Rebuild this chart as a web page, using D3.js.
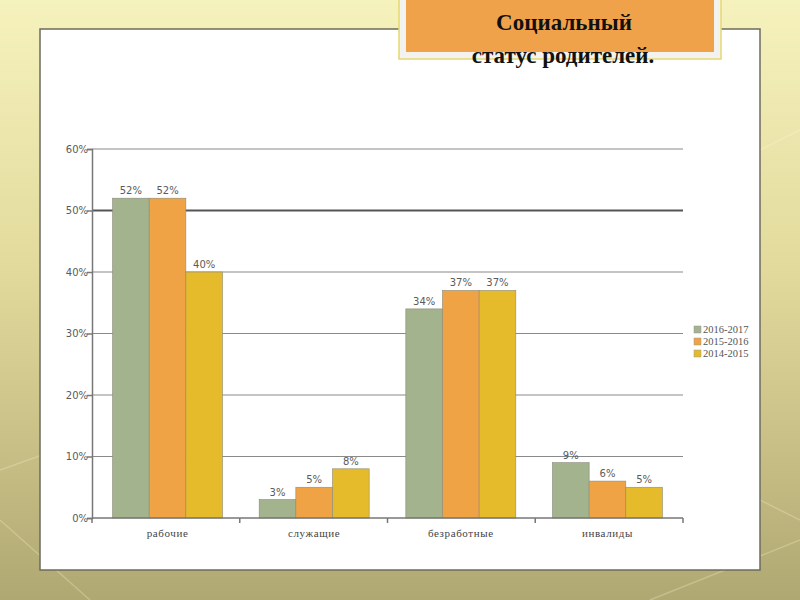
<!DOCTYPE html>
<html>
<head>
<meta charset="utf-8">
<script src="https://cdn.jsdelivr.net/npm/d3@7"></script>
<style>
  body { margin: 0; padding: 0; }
  #container { width: 800px; height: 600px; }
</style>
</head>
<body>
<div id="container"></div>
<script>
let w = 800;
let h = 600;

let categories = ["рабочие", "служащие", "безработные", "инвалиды"];
let seriesNames = ["2016-2017", "2015-2016", "2014-2015"];
let values2016 = [52, 3, 34, 9];
let values2015 = [52, 5, 37, 6];
let values2014 = [40, 8, 37, 5];
let yTicks = [0, 10, 20, 30, 40, 50, 60];
let colors = ["#a3b38d", "#f0a345", "#e5bb2b"];

let allSeries = [values2016, values2015, values2014];

let viz = d3.select("#container")
  .append("svg")
    .attr("width", w)
    .attr("height", h)
;

// background gradient
let defs = viz.append("defs");
let grad = defs.append("linearGradient")
    .attr("id", "bg")
    .attr("x1", 0).attr("y1", 0).attr("x2", 0).attr("y2", 1);
grad.append("stop").attr("offset", "0%").attr("stop-color", "#f6f2bd");
grad.append("stop").attr("offset", "45%").attr("stop-color", "#e2da9c");
grad.append("stop").attr("offset", "100%").attr("stop-color", "#b0a872");

viz.append("rect")
    .attr("width", w)
    .attr("height", h)
    .attr("fill", "url(#bg)");

// a few faint decorative lines
let deco = [[0, 470, 140, 420], [0, 520, 90, 600], [650, 600, 800, 540], [720, 480, 800, 520], [760, 150, 800, 130]];
viz.selectAll(".deco").data(deco).enter()
  .append("line")
    .attr("x1", d => d[0]).attr("y1", d => d[1])
    .attr("x2", d => d[2]).attr("y2", d => d[3])
    .attr("stroke", "#fffbe0")
    .attr("stroke-opacity", 0.25)
    .attr("stroke-width", 1.5);

// white panel
viz.append("rect")
    .attr("x", 40)
    .attr("y", 29)
    .attr("width", 720)
    .attr("height", 541)
    .attr("fill", "white")
    .attr("stroke", "#6b6b5e")
    .attr("stroke-width", 1.5);

// title box
viz.append("rect")
    .attr("x", 399)
    .attr("y", -5)
    .attr("width", 322)
    .attr("height", 64)
    .attr("fill", "#f4f2ee")
    .attr("stroke", "#e4d870")
    .attr("stroke-width", 1.5);
viz.append("rect")
    .attr("x", 406)
    .attr("y", -5)
    .attr("width", 308)
    .attr("height", 57)
    .attr("fill", "#f0a24a");

viz.append("text")
    .attr("x", 564)
    .attr("y", 30)
    .attr("text-anchor", "middle")
    .style("font-family", "'Liberation Serif', serif")
    .style("font-weight", "bold")
    .style("font-size", "23px")
    .attr("fill", "#111")
    .text("Социальный");
viz.append("text")
    .attr("x", 563)
    .attr("y", 63)
    .attr("text-anchor", "middle")
    .style("font-family", "'Liberation Serif', serif")
    .style("font-weight", "bold")
    .style("font-size", "23px")
    .attr("fill", "#111")
    .text("статус родителей.");

// scales
let xScale = d3.scaleBand().domain(categories).range([92, 683]).paddingInner(0.25).paddingOuter(0.14);
let xSub = d3.scaleBand().domain(d3.range(seriesNames.length)).range([0, xScale.bandwidth()]);
let yScale = d3.scaleLinear().domain([0, 60]).range([518, 149]);
let xOuter = d3.scaleLinear().domain([0, categories.length]).range([92, 683]);

// gridlines
viz.selectAll(".grid").data(yTicks.slice(1)).enter()
  .append("line")
    .attr("x1", 92)
    .attr("x2", 683)
    .attr("y1", d => yScale(d))
    .attr("y2", d => yScale(d))
    .attr("stroke", d => d == 50 ? "#555" : "#8a8a8a")
    .attr("stroke-width", d => d == 50 ? 2 : 1.2);

// y axis
let yAxis = d3.axisLeft(yScale)
    .tickValues(yTicks)
    .tickSize(5)
    .tickFormat(d => d + "%");
let yg = viz.append("g")
    .attr("transform", "translate(92,0)")
    .call(yAxis);
yg.select(".domain").attr("stroke", "#777").attr("stroke-width", 1.5);
yg.selectAll(".tick line").attr("stroke", "#777").attr("stroke-width", 1.5);
yg.selectAll(".tick text")
    .style("font-family", "'DejaVu Sans', sans-serif")
    .style("font-size", "10px")
    .attr("fill", "#5a5a5a")
    .attr("x", -4);

// bars
let groups = viz.selectAll(".datagroup").data(categories).enter()
  .append("g")
    .classed("datagroup", true)
    .attr("transform", d => "translate(" + xScale(d) + ",0)");

groups.selectAll("rect").data((d, i) => allSeries.map((s, j) => ({v: s[i], j: j}))).enter()
  .append("rect")
    .attr("x", d => xSub(d.j))
    .attr("y", d => yScale(d.v))
    .attr("width", xSub.bandwidth())
    .attr("height", d => yScale(0) - yScale(d.v))
    .attr("fill", d => colors[d.j])
    .attr("stroke", "#8a8a7a")
    .attr("stroke-width", 0.6);

groups.selectAll(".lbl").data((d, i) => allSeries.map((s, j) => ({v: s[i], j: j}))).enter()
  .append("text")
    .classed("lbl", true)
    .attr("x", d => xSub(d.j) + xSub.bandwidth() / 2)
    .attr("y", d => yScale(d.v) - 4)
    .attr("text-anchor", "middle")
    .style("font-family", "'DejaVu Sans', sans-serif")
    .style("font-size", "10px")
    .attr("fill", "#5a5a5a")
    .text(d => d.v + "%");

// x axis
viz.append("line")
    .attr("x1", 92).attr("x2", 683)
    .attr("y1", 518).attr("y2", 518)
    .attr("stroke", "#777").attr("stroke-width", 1.5);
viz.selectAll(".xtick").data(d3.range(categories.length + 1)).enter()
  .append("line")
    .attr("x1", d => xOuter(d)).attr("x2", d => xOuter(d))
    .attr("y1", 518).attr("y2", 523)
    .attr("stroke", "#777").attr("stroke-width", 1.5);
viz.selectAll(".xlabel").data(categories).enter()
  .append("text")
    .attr("x", d => xScale(d) + xScale.bandwidth() / 2)
    .attr("y", 537)
    .attr("text-anchor", "middle")
    .style("font-family", "'Liberation Serif', serif")
    .style("font-weight", "normal")
    .style("font-size", "11px")
    .style("letter-spacing", "0.6px")
    .attr("fill", "#444")
    .text(d => d);

// legend
let legend = viz.selectAll(".legend").data(seriesNames).enter()
  .append("g")
    .attr("transform", (d, i) => "translate(694," + (326 + i * 12) + ")");
legend.append("rect")
    .attr("width", 7).attr("height", 7)
    .attr("fill", (d, i) => colors[i])
    .attr("stroke", "#999").attr("stroke-width", 0.5);
legend.append("text")
    .attr("x", 9).attr("y", 7)
    .style("font-family", "'Liberation Serif', serif")
    .style("font-size", "10.5px")
    .attr("fill", "#555")
    .text(d => d);
</script>
</body>
</html>
